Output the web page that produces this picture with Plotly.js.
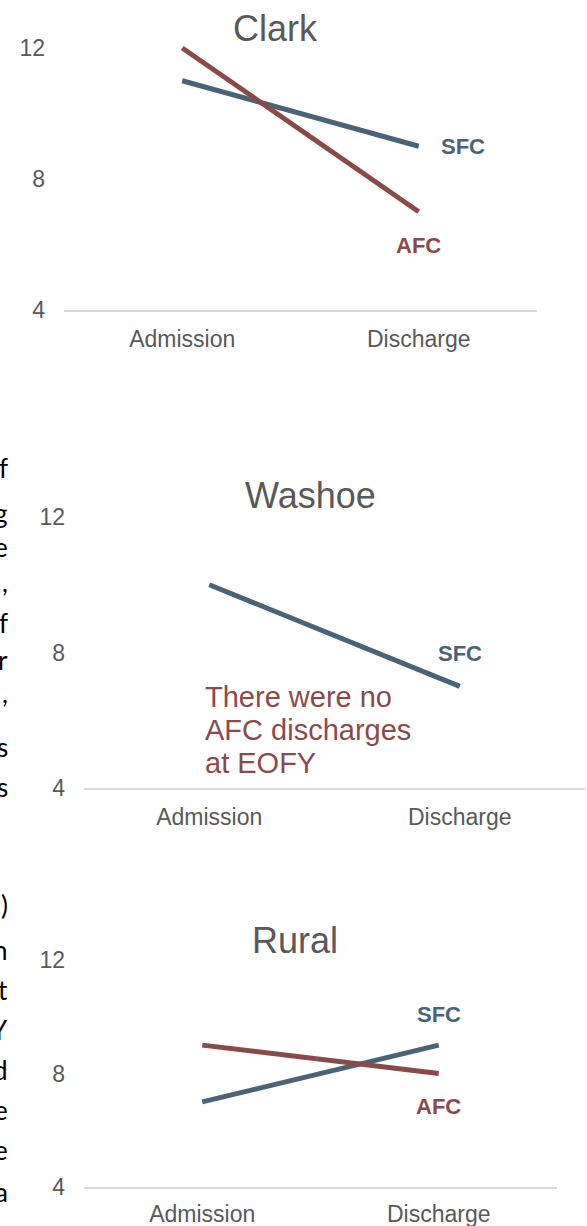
<!DOCTYPE html>
<html>
<head>
<meta charset="utf-8">
<script src="https://cdn.plot.ly/plotly-3.0.1.min.js"></script>
<style>html,body{margin:0;padding:0;background:#fff;}#chart{width:587px;height:1226px;}</style>
</head>
<body>
<div id="chart"></div>
<script>
// ---- data ----
const categories = ['Admission', 'Discharge'];
const panelTitles = ['Clark', 'Washoe', 'Rural'];
const seriesNames = ['SFC', 'AFC'];
const clarkSFC = [11, 9];
const clarkAFC = [12, 7];
const washoeSFC = [10, 7];
const washoeAFC = [null, null];
const ruralSFC = [7, 9];
const ruralAFC = [9, 8];
const yTickVals = [4, 8, 12];
const washoeNote = ['There were no', 'AFC discharges', 'at EOFY'];
const fragmentsWashoe = ['f', 'g', 'e', ',', 'f', 'r', ',', 's', 's'];
const fragmentsRural = [')', 'n', 't', 'Y', 'd', 'e', 'e', 'a'];

// ---- layout helpers ----
const W = 587, H = 1226;
const px = v => v / W;
const py = v => 1 - v / H;
const SFC_COLOR = '#4A6377';
const AFC_COLOR = '#8B4A4A';
const GREY = '#595959';
const FONT = 'Liberation Sans, Arial, sans-serif';

const panels = [
  {x0: 64, x1: 537, base: 310, top12: 48, title: {x: 275, y: 28}, sfc: clarkSFC, afc: clarkAFC, standoff: 8},
  {x0: 84, x1: 585, base: 788, top12: 517, title: {x: 310, y: 495}, sfc: washoeSFC, afc: washoeAFC, standoff: 8},
  {x0: 84, x1: 557, base: 1187, top12: 960, title: {x: 295, y: 940}, sfc: ruralSFC, afc: ruralAFC, standoff: 6}
];
const yMax = 12.5;

const data = [];
const layout = {
  width: W, height: H,
  margin: {l: 0, r: 0, t: 0, b: 0},
  paper_bgcolor: '#fff', plot_bgcolor: '#fff',
  showlegend: false,
  font: {family: FONT, color: GREY},
  annotations: []
};

panels.forEach((p, i) => {
  const n = i === 0 ? '' : String(i + 1);
  const ppu = (p.base - p.top12) / 8;
  const topPx = p.top12 - (yMax - 12) * ppu;
  layout['xaxis' + n] = {
    domain: [px(p.x0), px(p.x1)],
    anchor: 'y' + n,
    type: 'category',
    range: [-0.5, 1.5],
    showgrid: false, zeroline: false,
    showline: true, linecolor: '#D9D9D9', linewidth: 1.5,
    ticks: '', ticklabelstandoff: p.standoff,
    tickfont: {family: FONT, size: 23, color: GREY},
    fixedrange: true
  };
  layout['yaxis' + n] = {
    domain: [py(p.base), py(topPx)],
    anchor: 'x' + n,
    range: [4, yMax],
    tickvals: yTickVals,
    showgrid: false, zeroline: false, showline: false,
    ticks: '', ticklabelstandoff: 18,
    tickfont: {family: FONT, size: 23, color: GREY},
    fixedrange: true
  };
  data.push({
    x: categories, y: p.sfc, name: seriesNames[0], type: 'scatter', mode: 'lines',
    xaxis: 'x' + n, yaxis: 'y' + n,
    line: {color: SFC_COLOR, width: 5}, cliponaxis: false, hoverinfo: 'skip'
  });
  data.push({
    x: categories, y: p.afc, name: seriesNames[1], type: 'scatter', mode: 'lines',
    xaxis: 'x' + n, yaxis: 'y' + n,
    line: {color: AFC_COLOR, width: 5}, cliponaxis: false, hoverinfo: 'skip'
  });
  layout.annotations.push({
    text: panelTitles[i], xref: 'paper', yref: 'paper',
    x: px(p.title.x), y: py(p.title.y), xanchor: 'center', yanchor: 'middle',
    showarrow: false, font: {family: FONT, size: 36, color: GREY}
  });
});

function seriesLabel(name, color, axisN, xCat, yVal, xshift, yshift) {
  layout.annotations.push({
    text: '<b>' + name + '</b>', xref: 'x' + axisN, yref: 'y' + axisN,
    x: xCat, y: yVal, xshift: xshift, yshift: yshift,
    xanchor: 'center', yanchor: 'middle', showarrow: false,
    font: {family: FONT, size: 22, color: color}
  });
}
// Clark
seriesLabel(seriesNames[0], SFC_COLOR, '', categories[1], clarkSFC[1], 44, 0);
seriesLabel(seriesNames[1], AFC_COLOR, '', categories[1], clarkAFC[1], 0, -34);
// Washoe
seriesLabel(seriesNames[0], SFC_COLOR, '2', categories[1], washoeSFC[1], 0, 33);
// Rural
seriesLabel(seriesNames[0], SFC_COLOR, '3', categories[1], ruralSFC[1], 0, 31);
seriesLabel(seriesNames[1], AFC_COLOR, '3', categories[1], ruralAFC[1], 0, -33);

// Washoe note
const noteY = [697, 730, 763];
washoeNote.forEach((t, k) => {
  layout.annotations.push({
    text: t, xref: 'paper', yref: 'paper', x: px(203), y: py(noteY[k]),
    xanchor: 'left', yanchor: 'middle', showarrow: false,
    font: {family: FONT, size: 29, color: AFC_COLOR}
  });
});

// cropped page text on the left edge
const fragYWashoe = [468, 513, 547, 582, 623, 660, 693, 747, 787];
const fragYRural = [905, 950, 990, 1030, 1070, 1110, 1150, 1192];
function addFrags(chars, ys) {
  chars.forEach((c, k) => {
    layout.annotations.push({
      text: c, xref: 'paper', yref: 'paper', x: px(10), y: py(ys[k]),
      xanchor: 'right', yanchor: 'middle', showarrow: false,
      font: {family: 'Lato, sans-serif', size: 26, color: '#000'}
    });
  });
}
addFrags(fragmentsWashoe, fragYWashoe);
addFrags(fragmentsRural, fragYRural);

Plotly.newPlot('chart', data, layout, {displayModeBar: false, staticPlot: true});
</script>
</body>
</html>
